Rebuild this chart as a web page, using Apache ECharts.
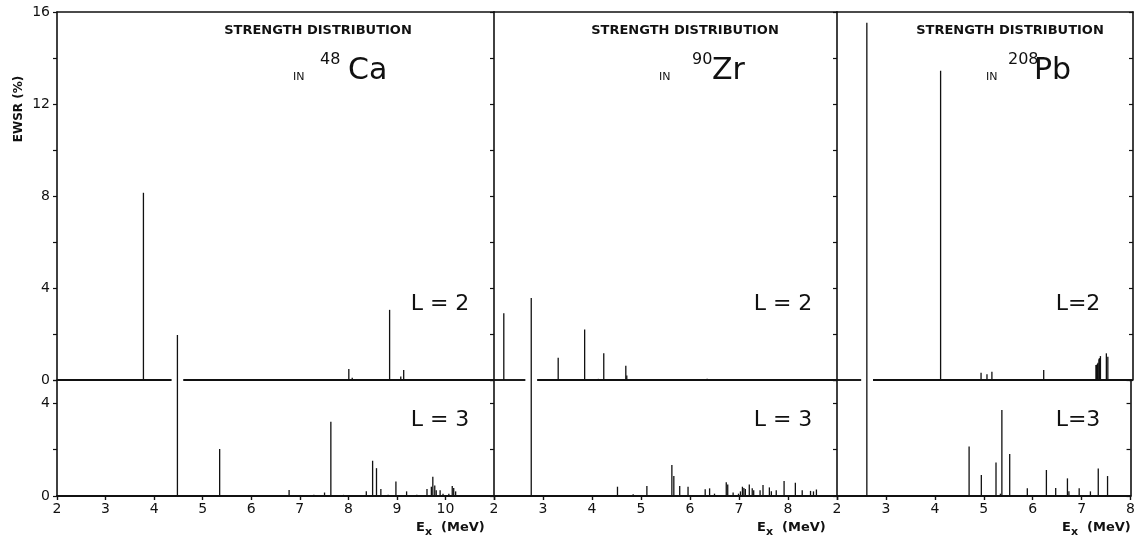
<!DOCTYPE html>
<html>
<head>
<meta charset="utf-8">
<script src="https://cdn.jsdelivr.net/npm/echarts@6/dist/echarts.min.js"></script>
<style>html,body{margin:0;padding:0;background:#fff;}#c{width:1138px;height:544px;}</style>
</head>
<body>
<div id="c"></div>
<script>
// ---------- data ----------
const nuclei = ['Ca', 'Zr', 'Pb'];
const massNumbers = ['48', '90', '208'];
const xRanges = [[2, 11], [2, 9], [2, 8]];
const upperTicks = [0, 4, 8, 12, 16];
const lowerTicks = [0, 4];

const caL2E = [3.78, 8.01, 8.08, 8.85, 9.08, 9.14];
const caL2S = [8.14, 0.48, 0.10, 3.05, 0.15, 0.43];
const caL3E = [4.48, 5.35, 6.78, 7.29, 7.51, 7.64, 7.90, 8.37, 8.50, 8.58, 8.67, 8.82, 8.98, 9.20, 9.41, 9.62, 9.71, 9.74, 9.78, 9.81, 9.89, 9.95, 10.07, 10.14, 10.17, 10.21];
const caL3S = [6.94, 2.03, 0.26, 0.05, 0.15, 3.20, 0.05, 0.20, 1.52, 1.20, 0.30, 0.05, 0.63, 0.20, 0.05, 0.30, 0.40, 0.83, 0.45, 0.25, 0.25, 0.10, 0.10, 0.43, 0.35, 0.20];

const zrL2E = [2.20, 3.31, 3.85, 4.13, 4.24, 4.69, 4.71, 6.35];
const zrL2S = [2.90, 0.97, 2.20, 0.05, 1.16, 0.62, 0.20, 0.05];
const zrL3E = [2.76, 4.52, 4.84, 5.12, 5.63, 5.67, 5.79, 5.96, 6.31, 6.40, 6.50, 6.74, 6.77, 6.88, 6.99, 7.03, 7.07, 7.10, 7.13, 7.21, 7.27, 7.30, 7.43, 7.49, 7.62, 7.66, 7.76, 7.92, 8.15, 8.29, 8.46, 8.52, 8.58];
const zrL3S = [8.53, 0.40, 0.08, 0.43, 1.34, 0.86, 0.43, 0.40, 0.29, 0.33, 0.10, 0.59, 0.50, 0.15, 0.10, 0.20, 0.40, 0.35, 0.30, 0.50, 0.33, 0.25, 0.25, 0.47, 0.37, 0.20, 0.25, 0.65, 0.57, 0.25, 0.22, 0.20, 0.28];

const pbL2E = [4.10, 4.92, 5.04, 5.14, 6.19, 7.25, 7.26, 7.28, 7.29, 7.31, 7.32, 7.34, 7.46, 7.49];
const pbL2S = [13.45, 0.32, 0.25, 0.36, 0.43, 0.65, 0.66, 0.70, 0.75, 0.90, 0.95, 1.04, 1.16, 1.01];
const pbL3E = [2.61, 4.70, 4.95, 5.25, 5.34, 5.37, 5.53, 5.89, 6.28, 6.47, 6.71, 6.74, 6.95, 7.18, 7.34, 7.53];
const pbL3S = [20.4, 2.13, 0.90, 1.44, 0.10, 3.71, 1.81, 0.33, 1.12, 0.35, 0.76, 0.20, 0.33, 0.20, 1.19, 0.86];

const L2E = [caL2E, zrL2E, pbL2E], L2S = [caL2S, zrL2S, pbL2S];
const L3E = [caL3E, zrL3E, pbL3E], L3S = [caL3S, zrL3S, pbL3S];

// ---------- layout / style ----------
const INK = '#111';
const FONT = '"DejaVu Sans", "Liberation Sans", sans-serif';
const panelLeft = [57, 494, 837];
const panelWidth = [437, 343, 296];
const upperTop = 12, upperH = 368, lowerH = 116;
const gapHalf = 0.12;

const grids = [], xAxes = [], yAxes = [], series = [];
const zip = (a, b) => a.map((v, i) => [v, b[i]]);

function stickSeries(xi, yi, data) {
  return {
    type: 'custom', xAxisIndex: xi, yAxisIndex: yi, clip: false, silent: true,
    data: data,
    renderItem: (params, api) => {
      const p0 = api.coord([api.value(0), 0]);
      const p1 = api.coord([api.value(0), api.value(1)]);
      return { type: 'line', shape: { x1: p0[0], y1: p0[1], x2: p1[0], y2: p1[1] },
               style: { stroke: INK, lineWidth: 1.3 } };
    }
  };
}

function baseLine(xi, yi, segs) {
  return {
    type: 'custom', xAxisIndex: xi, yAxisIndex: yi, clip: false, silent: true,
    data: segs,
    renderItem: (params, api) => {
      const p0 = api.coord([api.value(0), 0]);
      const p1 = api.coord([api.value(1), 0]);
      return { type: 'line', shape: { x1: p0[0], y1: p0[1], x2: p1[0], y2: p1[1] },
               style: { stroke: INK, lineWidth: 1.9 } };
    }
  };
}

const mkY = (gi, max, ticks, pos, showLabel, inside) => ({
  gridIndex: gi, type: 'value', min: 0, max: max, interval: 2, position: pos,
  axisLine: { show: true, onZero: false, lineStyle: { color: INK, width: 1.6 } },
  axisTick: { show: true, inside: inside, length: 4, lineStyle: { color: INK, width: 1.2 } },
  axisLabel: { show: showLabel, color: INK, fontFamily: FONT, fontSize: 14, margin: 7,
    formatter: v => ticks.indexOf(v) >= 0 ? String(v) : '' },
  splitLine: { show: false }
});

for (let p = 0; p < 3; p++) {
  const [xmin, xmax] = xRanges[p];
  grids.push({ left: panelLeft[p], top: upperTop, width: panelWidth[p], height: upperH });
  grids.push({ left: panelLeft[p], top: upperTop + upperH, width: panelWidth[p], height: lowerH });
  const gu = 2 * p, gl = 2 * p + 1;

  xAxes.push({ gridIndex: gu, type: 'value', min: xmin, max: xmax, position: 'top',
    axisLine: { show: true, onZero: false, lineStyle: { color: INK, width: 1.6 } },
    axisTick: { show: false }, axisLabel: { show: false }, splitLine: { show: false } });
  xAxes.push({ gridIndex: gl, type: 'value', min: xmin, max: xmax, interval: 1, position: 'bottom',
    axisLine: { show: true, onZero: false, lineStyle: { color: INK, width: 1.8 } },
    axisTick: { show: true, length: 4, lineStyle: { color: INK, width: 1.4 } },
    axisLabel: { show: true, color: INK, fontFamily: FONT, fontSize: 14, margin: 6,
      formatter: v => (p < 2 && v === xmax) ? '' : String(v) },
    splitLine: { show: false } });

  yAxes.push(mkY(gu, 16, upperTicks, 'left', p === 0, false));
  yAxes.push(mkY(gl, 5, lowerTicks, 'left', p === 0, false));
}
// right border of the last panel
yAxes.push({ gridIndex: 4, type: 'value', min: 0, max: 16, interval: 2, position: 'right',
  axisLine: { show: true, onZero: false, lineStyle: { color: INK, width: 1.6 } },
  axisTick: { show: true, inside: true, length: 4, lineStyle: { color: INK, width: 1.2 } },
  axisLabel: { show: false }, splitLine: { show: false } });
yAxes.push({ gridIndex: 5, type: 'value', min: 0, max: 5, interval: 2, position: 'right',
  axisLine: { show: true, onZero: false, lineStyle: { color: INK, width: 1.6 } },
  axisTick: { show: true, inside: true, length: 4, lineStyle: { color: INK, width: 1.2 } },
  axisLabel: { show: false }, splitLine: { show: false } });

for (let p = 0; p < 3; p++) {
  const [xmin, xmax] = xRanges[p];
  const big = L3E[p][0];
  const gu = 2 * p, gl = 2 * p + 1;
  // zero line of the upper panel, interrupted where the tall L=3 line passes
  series.push(baseLine(gu, gu, [[xmin, big - gapHalf], [big + gapHalf, xmax]]));
  series.push(stickSeries(gu, gu, zip(L2E[p], L2S[p])));
  series.push(stickSeries(gl, gl, zip(L3E[p], L3S[p])));
}

// ---------- texts ----------
const graphic = [];
const txt = (x, y, text, size, weight, align) => graphic.push({
  type: 'text', x: x, y: y, silent: true,
  style: { text: text, fill: INK, font: (weight ? weight + ' ' : '') + size + 'px ' + FONT,
    textAlign: align || 'left', textVerticalAlign: 'middle' }
});

const titleCx = [318, 685, 1010];
const inX = [293, 659, 986];
const supX = [320, 692, 1008];
const symX = [348, 712, 1034];
const lblCx = [440, 783, 1078];
const lbl2 = ['L = 2', 'L = 2', 'L=2'];
const lbl3 = ['L = 3', 'L = 3', 'L=3'];
const exX = [416, 757, 1062];
for (let p = 0; p < 3; p++) {
  txt(titleCx[p], 31, 'STRENGTH DISTRIBUTION', 13, 'bold', 'center');
  txt(inX[p], 77, 'IN', 11);
  txt(supX[p], 60, massNumbers[p], 16);
  txt(symX[p], 71, nuclei[p], 30);
  txt(lblCx[p], 304, lbl2[p], 22, null, 'center');
  txt(lblCx[p], 420, lbl3[p], 22, null, 'center');
  graphic.push({ type: 'text', x: exX[p], y: 528, silent: true,
    style: { text: '{e|E}{s|x}{e|  (MeV)}', textVerticalAlign: 'middle',
      rich: { e: { fontFamily: FONT, fontSize: 13, fontWeight: 'bold', fill: INK },
              s: { fontFamily: FONT, fontSize: 11, fontWeight: 'bold', fill: INK, padding: [8, 0, 0, 0] } } } });
}
graphic.push({ type: 'text', x: 19, y: 109, rotation: Math.PI / 2, silent: true,
  style: { text: 'EWSR (%)', fill: INK, font: 'bold 12px ' + FONT, textAlign: 'center', textVerticalAlign: 'middle' } });

const chart = echarts.init(document.getElementById('c'), null, { renderer: 'canvas' });
chart.setOption({
  animation: false,
  backgroundColor: '#fff',
  grid: grids, xAxis: xAxes, yAxis: yAxes, series: series, graphic: graphic
});
</script>
</body>
</html>
